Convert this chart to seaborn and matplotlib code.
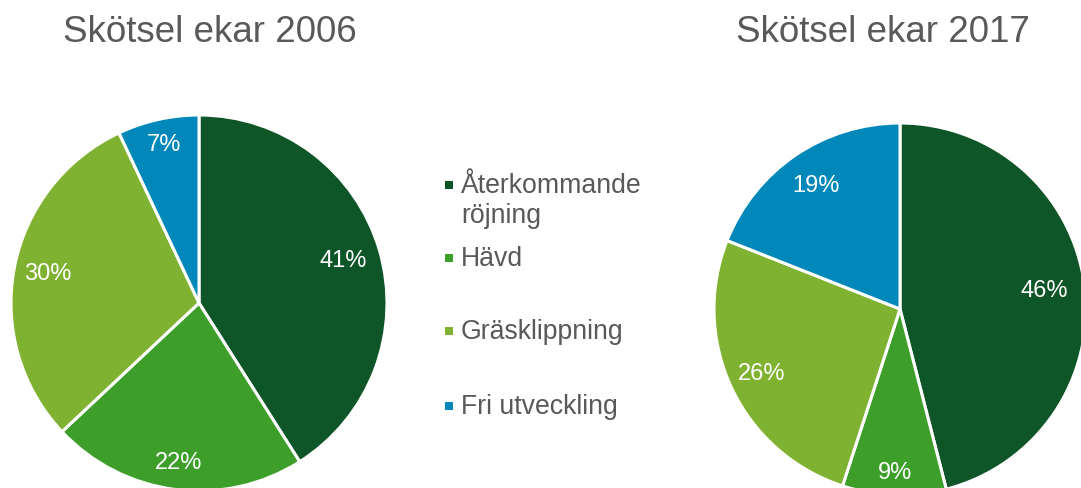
import matplotlib
matplotlib.use("Agg")
import matplotlib.pyplot as plt
import numpy as np
import seaborn as sns

# Data
categories = ["Återkommande\nröjning", "Hävd", "Gräsklippning", "Fri utveckling"]
values_2006 = [41, 22, 30, 7]
values_2017 = [46, 9, 26, 19]
titles = ["Skötsel ekar 2006", "Skötsel ekar 2017"]
colors = ["#0E5628", "#3D9F2A", "#80B231", "#0088BA"]

# label distance from centre (fraction of radius), per slice
dist_2006 = [0.80, 0.86, 0.82, 0.86]
dist_2017 = [0.78, 0.88, 0.82, 0.80]

sns.set_theme(style="white")
plt.rcParams["font.family"] = ["Liberation Sans", "DejaVu Sans"]

W, H = 1081, 488
fig = plt.figure(figsize=(W / 100, H / 100), dpi=100)


def px_axes(cx, cy, r):
    # axes square around a pixel centre (y from top)
    return fig.add_axes([(cx - r) / W, (H - cy - r) / H, 2 * r / W, 2 * r / H])


def draw_pie(ax, vals, dists):
    wedges, _, autotexts = ax.pie(
        vals, colors=colors, startangle=90, counterclock=False, radius=1,
        autopct=lambda p: f"{p:.0f}%",
        wedgeprops=dict(edgecolor="white", linewidth=2.2),
        textprops=dict(color="white", fontsize=17))
    for w, t, d in zip(wedges, autotexts, dists):
        ang = np.deg2rad((w.theta1 + w.theta2) / 2)
        t.set_position((d * np.cos(ang), d * np.sin(ang)))
        w.set_clip_on(False)
    ax.set_xlim(-1, 1)
    ax.set_ylim(-1, 1)
    ax.set_aspect("equal")
    ax.axis("off")


ax1 = px_axes(199, 303, 188)
draw_pie(ax1, values_2006, dist_2006)
ax2 = px_axes(900, 309, 186)
draw_pie(ax2, values_2017, dist_2017)

fig.text(210 / W, 1 - 33 / H, titles[0], ha="center", va="center",
         fontsize=26.5, color="#595959")
fig.text(883 / W, 1 - 33 / H, titles[1], ha="center", va="center",
         fontsize=26.5, color="#595959")

# legend, placed by hand so the two-line entry keeps its marker on line one
leg = fig.add_axes([0, 0, 1, 1])
leg.set_xlim(0, W)
leg.set_ylim(H, 0)
leg.axis("off")
leg.patch.set_alpha(0)
leg_y = [185, 258, 331, 406]
for lab, col, y in zip(categories, colors, leg_y):
    leg.scatter([449], [y], marker="s", s=40, color=col, linewidths=0)
    leg.text(461, y - 12, lab, ha="left", va="top", fontsize=19.2,
             color="#595959", linespacing=1.2)

fig.savefig("out.png", dpi=100)
